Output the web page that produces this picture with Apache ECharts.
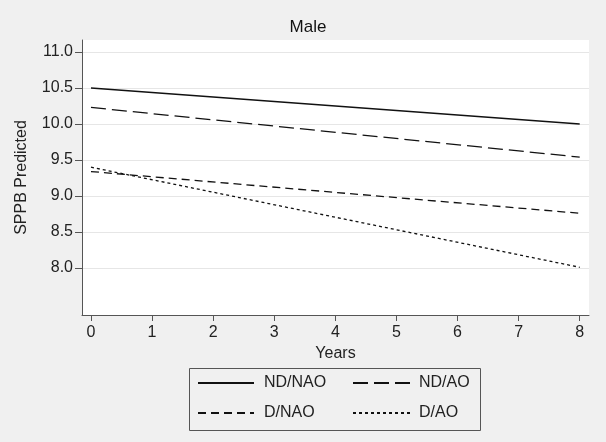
<!DOCTYPE html>
<html>
<head>
<meta charset="utf-8">
<script src="https://cdn.jsdelivr.net/npm/echarts@6/dist/echarts.min.js"></script>
<style>
html,body{margin:0;padding:0;background:#f0f0f0;}
#chart{width:606px;height:442px;}
</style>
</head>
<body>
<div id="chart"></div>
<script>
// years on x axis
var years = [0, 8];
var yTicks = [8.0, 8.5, 9.0, 9.5, 10.0, 10.5, 11.0];
var xTicks = [0, 1, 2, 3, 4, 5, 6, 7, 8];

var ndNao = [10.50, 10.00];
var ndAo = [10.23, 9.54];
var dNao = [9.34, 8.76];
var dAo = [9.40, 8.01];

var names = ['ND/NAO', 'ND/AO', 'D/NAO', 'D/AO'];
var dashes = ['solid', [15, 6], [8, 5], [3, 3]];
var vals = [ndNao, ndAo, dNao, dAo];

var pairs = function(v){
	var out = [];
	for(var i=0;i<years.length;i++){
		out.push([years[i], v[i]]);
	}
	return out;
};

var series = [];
for(var i=0;i<names.length;i++){
	series.push({
		name: names[i],
		type: 'line',
		symbol: 'none',
		data: pairs(vals[i]),
		lineStyle: {color: '#111', width: 1.3, type: dashes[i]},
		itemStyle: {color: '#111'}
	});
}

var font = 'Liberation Sans, Arial, sans-serif';
var txt = {color: '#222', fontSize: 16, fontFamily: font};

var chart = echarts.init(document.getElementById('chart'));
chart.setOption({
	backgroundColor: '#f0f0f0',
	animation: false,
	title: {
		text: 'Male',
		left: 303,
		textAlign: 'center',
		top: 14,
		textStyle: {color: '#111', fontSize: 17, fontWeight: 'normal', fontFamily: font}
	},
	grid: {left: 82, right: 17, top: 40, bottom: 127, show: true, backgroundColor: '#fff', borderWidth: 0},
	xAxis: {
		type: 'value',
		min: -0.147,
		max: 8.152,
		name: 'Years',
		nameLocation: 'middle',
		nameGap: 18,
		nameTextStyle: txt,
		axisLine: {onZero: false, lineStyle: {color: '#555'}},
		axisTick: {customValues: xTicks, length: 6, lineStyle: {color: '#555'}},
		axisLabel: {customValues: xTicks, margin: 10, color: '#222', fontSize: 16, fontFamily: font},
		splitLine: {show: false}
	},
	yAxis: {
		type: 'value',
		min: 7.347,
		max: 11.167,
		name: 'SPPB Predicted',
		nameLocation: 'middle',
		nameGap: 52,
		nameTextStyle: txt,
		axisLine: {show: true, onZero: false, lineStyle: {color: '#555'}},
		axisTick: {show: true, customValues: yTicks, length: 7, lineStyle: {color: '#555'}},
		axisLabel: {customValues: yTicks, margin: 9, color: '#222', fontSize: 16, fontFamily: font,
			formatter: function(v){ return v.toFixed(1); }},
		splitLine: {show: true, lineStyle: {color: '#e6e6e6'}}
	},
	legend: [{
		data: ['ND/NAO', 'D/NAO'],
		orient: 'vertical',
		left: 197,
		top: 375,
		padding: 0,
		itemWidth: 56,
		itemHeight: 14,
		itemGap: 14,
		itemStyle: {opacity: 0},
		textStyle: {color: '#222', fontSize: 16, fontFamily: font, padding: [0, 0, 0, 5]}
	}, {
		data: ['ND/AO', 'D/AO'],
		orient: 'vertical',
		left: 352,
		top: 375,
		padding: 0,
		itemWidth: 57,
		itemHeight: 14,
		itemGap: 14,
		itemStyle: {opacity: 0},
		textStyle: {color: '#222', fontSize: 16, fontFamily: font, padding: [0, 0, 0, 4]}
	}],
	graphic: [{
		type: 'rect',
		shape: {x: 189.5, y: 368.5, width: 291, height: 62},
		style: {fill: 'none', stroke: '#555', lineWidth: 1},
		silent: true
	}],
	series: series
});
</script>
</body>
</html>
